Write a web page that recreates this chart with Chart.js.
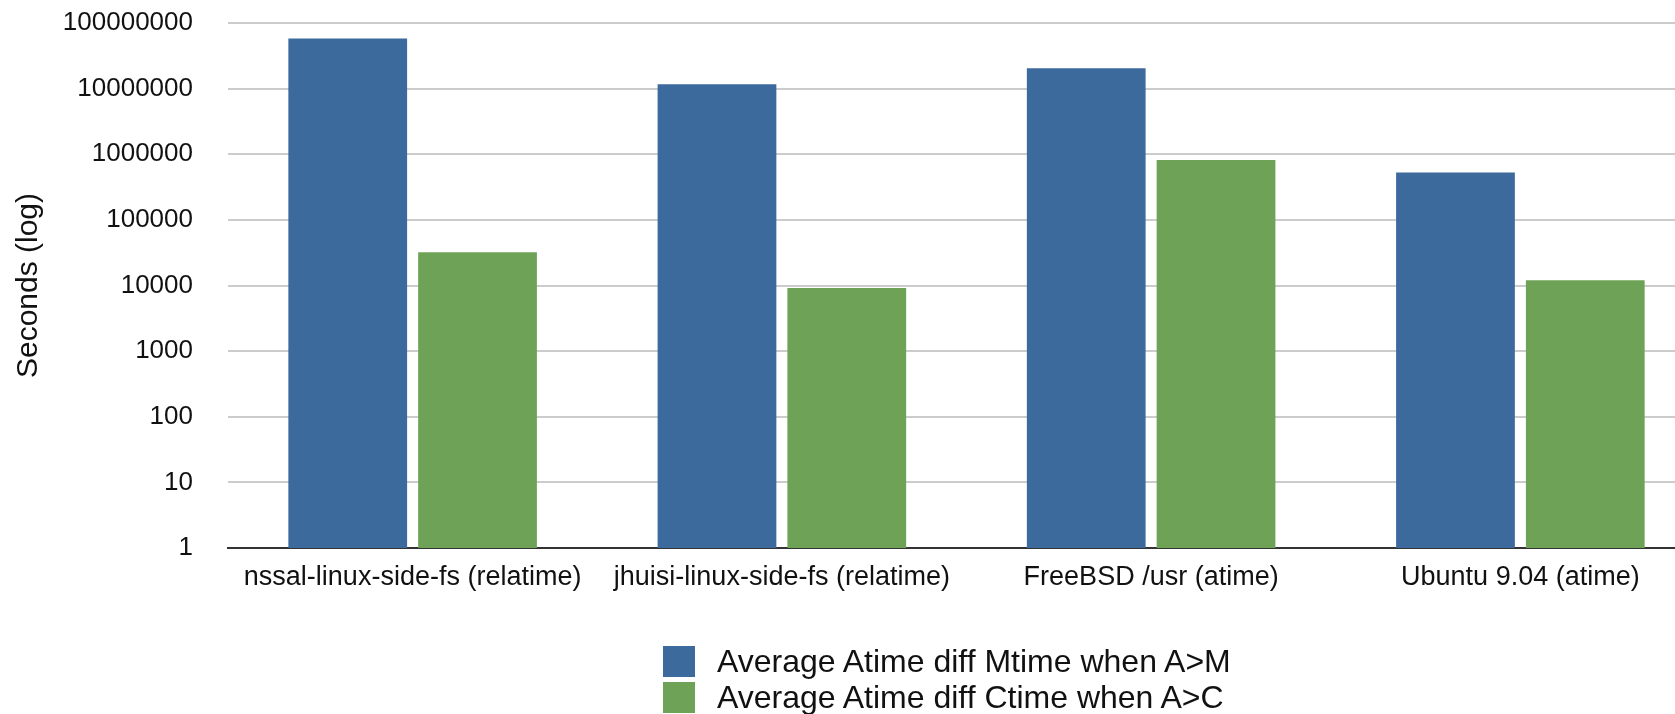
<!DOCTYPE html>
<html>
<head>
<meta charset="utf-8">
<script src="https://cdn.jsdelivr.net/npm/chart.js@4.4.1/dist/chart.umd.min.js"></script>
<style>
  html, body { margin: 0; padding: 0; background: #fff; overflow: hidden; }
  #wrap { position: relative; width: 1710px; height: 714px; }
  #legend { position: absolute; left: 663px; top: 643px; font-family: "Liberation Sans", Arial, sans-serif; font-size: 32px; color: #111; }
  #legend .item { display: flex; align-items: center; height: 36px; }
  #legend .box { width: 32px; height: 31px; margin-right: 22px; }
</style>
</head>
<body>
<div id="wrap">
  <canvas id="chart"></canvas>
  <div id="legend"></div>
</div>
<script>
// atime survey, log scale
const categories = [
  "nssal-linux-side-fs (relatime)",
  "jhuisi-linux-side-fs (relatime)",
  "FreeBSD /usr (atime)",
  "Ubuntu 9.04 (atime)"
];
const mtimeDiff = [57800000, 11700000, 20400000, 528000];
const ctimeDiff = [32000, 9200, 820000, 12000];
const yTicks = [1, 10, 100, 1000, 10000, 100000, 1000000, 10000000, 100000000];

const seriesNames = ["Average Atime diff Mtime when A>M", "Average Atime diff Ctime when A>C"];
const blue = "#3c6a9c";
const green = "#6ea357";
const font = "'Liberation Sans', Arial, sans-serif";

const chart = new Chart(document.getElementById("chart"), {
  type: "bar",
  data: {
    labels: categories,
    datasets: [
      { label: seriesNames[0], data: mtimeDiff, backgroundColor: blue },
      { label: seriesNames[1], data: ctimeDiff, backgroundColor: green }
    ]
  },
  options: {
    responsive: true,
    maintainAspectRatio: false,
    animation: false,
    layout: { padding: { top: 23, right: 5, bottom: 106, left: 0 } },
    datasets: { bar: { categoryPercentage: 0.703, barPercentage: 0.915 } },
    plugins: { legend: { display: false }, tooltip: { enabled: false } },
    scales: {
      x: {
        grid: { display: false },
        border: { display: true, color: "#333", width: 2 },
        ticks: { color: "#111", font: { family: font, size: 27 }, padding: 5, maxRotation: 0 },
        afterFit: s => { s.height = 60; }
      },
      y: {
        type: "logarithmic",
        min: 1,
        max: 100000000,
        border: { display: false },
        // tick marks kept invisible, they only make the gap before the labels
        grid: { color: "#cccccc", lineWidth: 2, drawTicks: true, tickLength: 30, tickColor: "rgba(0,0,0,0)" },
        afterBuildTicks: s => { s.ticks = yTicks.map(v => ({ value: v })); },
        afterFit: s => { s.width = 228; },
        ticks: {
          color: "#111",
          font: { family: font, size: 26 },
          padding: 5,
          callback: v => String(v)
        },
        title: {
          display: true,
          text: "Seconds (log)",
          color: "#111",
          font: { family: font, size: 30 },
          padding: { top: 11, bottom: 0 }
        }
      }
    }
  }
});

// legend as two stacked rows, like the original
const legendEl = document.getElementById("legend");
chart.data.datasets.forEach(ds => {
  const row = document.createElement("div");
  row.className = "item";
  const box = document.createElement("span");
  box.className = "box";
  box.style.background = ds.backgroundColor;
  const txt = document.createElement("span");
  txt.textContent = ds.label;
  row.appendChild(box);
  row.appendChild(txt);
  legendEl.appendChild(row);
});
</script>
</body>
</html>
